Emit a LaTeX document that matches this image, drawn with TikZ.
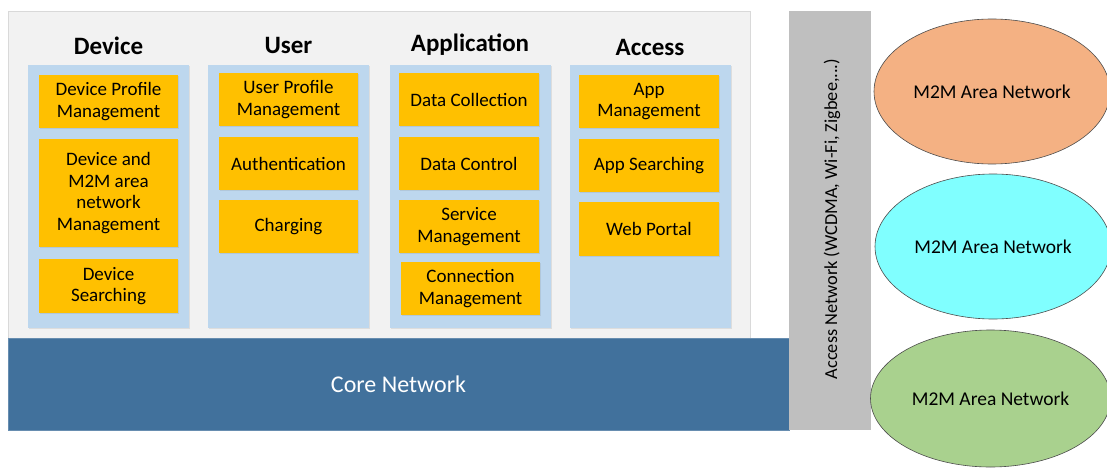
\documentclass[tikz,border=0pt]{standalone}
\usepackage{fontspec}
\setmainfont{Carlito}
\usetikzlibrary{shapes.geometric,shadows}
\definecolor{panelgray}{HTML}{F2F2F2}
\definecolor{panelline}{HTML}{D9D9D9}
\definecolor{colblue}{HTML}{BDD7EE}
\definecolor{boxorange}{HTML}{FFC000}
\definecolor{corenet}{HTML}{41719C}
\definecolor{accgray}{HTML}{BFBFBF}
\definecolor{ellorange}{HTML}{F4B183}
\definecolor{ellcyan}{HTML}{80FFFF}
\definecolor{ellgreen}{HTML}{A9D18E}
\tikzset{
  colbox/.style={fill=colblue, draw=none, minimum width=161pt, minimum height=263pt,
    drop shadow={opacity=0.18, shadow xshift=1pt, shadow yshift=-1pt}},
  obox/.style={fill=boxorange, draw=none, minimum width=139pt, align=center,
    font=\fontsize{19}{21.5}\selectfont, inner sep=0pt,
    drop shadow={opacity=0.18, shadow xshift=1pt, shadow yshift=-1pt}},
  header/.style={font=\fontsize{25}{28}\selectfont\bfseries},
  m2m/.style={ellipse, draw=black!70, line width=0.6pt, minimum width=236pt,
    font=\fontsize{19.5}{22}\selectfont}
}
\begin{document}
\begin{tikzpicture}[x=1pt,y=-1pt]
\useasboundingbox (0,0) rectangle (1107,468);
\clip (0,0) rectangle (1107,468);
\fill[white] (0,0) rectangle (1107,468);
% outer panel
\node[fill=panelgray, draw=panelline, line width=0.8pt, minimum width=742pt, minimum height=327pt, inner sep=0pt] (panel) at (379,174.5) {};
% columns
\node[colbox] (cdev) at (108.5,196.5) {};
\node[colbox] (cuser) at (288.5,196.5) {};
\node[colbox] (capp) at (470,196.5) {};
\node[colbox] (cacc) at (650,196.5) {};
% headers
\node[header] (hdev) at (108.5,46) {Device};
\node[header] (huser) at (288.5,45) {User};
\node[header] (happ) at (470,45) {Application};
\node[header] (hacc) at (650,47) {Access};
% device boxes
\node[obox, minimum height=53pt] (dpm) at (108.5,101.5) {Device Profile\\Management};
\node[obox, minimum height=108pt] (dnm) at (108.5,193) {Device and\\M2M area\\network\\Management};
\node[obox, minimum height=54pt] (dsr) at (108.5,286) {Device\\Searching};
% user boxes
\node[obox, minimum height=53pt] (upm) at (288.5,99.5) {User Profile\\Management};
\node[obox, minimum height=53pt] (auth) at (288.5,163.5) {Authentication};
\node[obox, minimum height=53pt] (chg) at (288.5,226.5) {Charging};
% application boxes
\node[obox, minimum width=140pt, minimum height=53pt] (dcol) at (469,99.5) {Data Collection};
\node[obox, minimum width=140pt, minimum height=53pt] (dctl) at (469,163.5) {Data Control};
\node[obox, minimum width=140pt, minimum height=53pt] (smg) at (469,226.5) {Service\\Management};
\node[obox, minimum width=139pt, minimum height=53pt] (cmg) at (470.5,288.5) {Connection\\Management};
% access boxes
\node[obox, minimum width=140pt, minimum height=53pt] (amg) at (649,101.5) {App\\Management};
\node[obox, minimum width=140pt, minimum height=53pt] (asr) at (649,165.5) {App Searching};
\node[obox, minimum width=140pt, minimum height=54pt] (wp) at (649,229) {Web Portal};
% core network
\node[fill=corenet, draw=corenet!80!white, line width=0.5pt, minimum width=781pt, minimum height=92pt, inner sep=0pt,
  text=white, font=\fontsize{24}{26}\selectfont] (core) at (398.5,384) {Core Network};
% access network bar
\node[fill=accgray, draw=none, minimum width=82pt, minimum height=419pt, inner sep=0pt] (accbar) at (830,220.5) {};
\node[rotate=90, font=\fontsize{18.3}{21}\selectfont] (acctext) at (832,219) {Access Network (WCDMA, Wi-Fi, Zigbee,...)};
% M2M area networks
\node[m2m, fill=ellorange, minimum height=145pt] (m1) at (992,91.5) {M2M Area Network};
\node[m2m, fill=ellcyan, minimum height=145pt] (m2) at (993,246.5) {M2M Area Network};
\node[m2m, fill=ellgreen, minimum width=240pt, minimum height=137pt] (m3) at (990.5,398.5) {M2M Area Network};
\end{tikzpicture}
\end{document}
